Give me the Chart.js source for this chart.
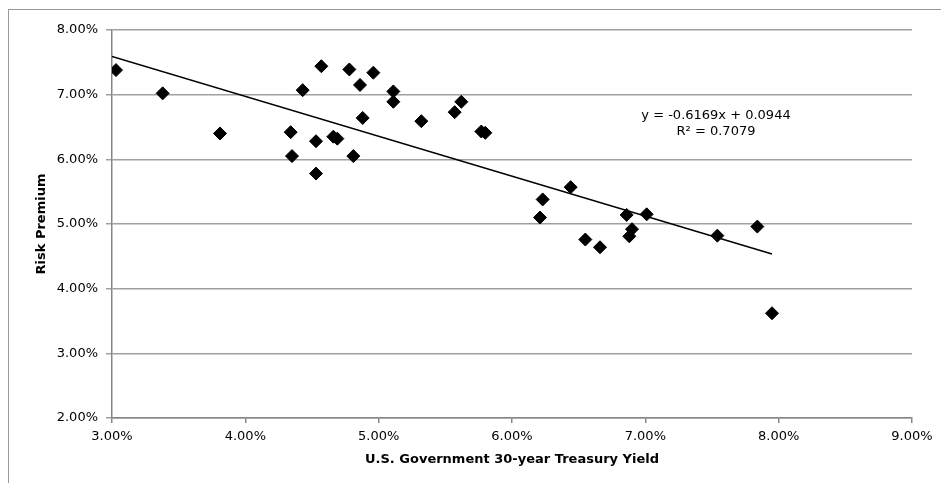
<!DOCTYPE html>
<html>
<head>
<meta charset="utf-8">
<script src="https://cdn.jsdelivr.net/npm/chart.js@4"></script>
<style>
  html, body { margin: 0; padding: 0; background: #fff; }
  canvas { display: block; }
</style>
</head>
<body>
<canvas id="c" width="941" height="483"></canvas>
<script>
// ---- Data (percent units) ----
const treasuryYield = [3.03, 3.38, 3.81, 4.34, 4.35, 4.43, 4.53, 4.53, 4.57, 4.66, 4.69, 4.78, 4.81, 4.86, 4.88, 4.96,
  5.11, 5.11, 5.32, 5.57, 5.62, 5.77, 5.80, 6.21, 6.23, 6.44, 6.55, 6.66, 6.86, 6.88, 6.90, 7.01, 7.54, 7.84, 7.95];
const riskPremium = [7.38, 7.02, 6.40, 6.42, 6.05, 7.07, 6.28, 5.78, 7.44, 6.35, 6.32, 7.39, 6.05, 7.15, 6.64, 7.34,
  7.05, 6.89, 6.59, 6.73, 6.89, 6.43, 6.41, 5.10, 5.38, 5.57, 4.76, 4.64, 5.14, 4.81, 4.92, 5.15, 4.82, 4.96, 3.62];
const trendSlope = -0.6169;
const trendIntercept = 0.0944;
const trendRSquared = 0.7079;
const xTicks = [3, 4, 5, 6, 7, 8, 9];
const yTicks = [2, 3, 4, 5, 6, 7, 8];
const xTitle = 'U.S. Government 30-year Treasury Yield';
const yTitle = 'Risk Premium';
const equationText = 'y = -0.6169x + 0.0944';
const rSquaredText = 'R\u00B2 = 0.7079';

const points = treasuryYield.map((x, i) => ({ x: x, y: riskPremium[i] }));
const xMinData = Math.min(...treasuryYield) - 0.03;
const xMaxData = Math.max(...treasuryYield);
const trend = x => (trendSlope * (x / 100) + trendIntercept) * 100;
const trendPoints = [{ x: xMinData, y: trend(xMinData) }, { x: xMaxData, y: trend(xMaxData) }];

const FONT = 'DejaVu Sans';

const framePlugin = {
  id: 'frame',
  beforeDraw(chart) {
    const ctx = chart.ctx;
    ctx.save();
    ctx.fillStyle = '#fff';
    ctx.fillRect(0, 0, chart.width, chart.height);
    ctx.strokeStyle = '#999999';
    ctx.lineWidth = 1;
    ctx.strokeRect(8.5, 9.5, 1200, 1200);
    ctx.restore();
  }
};

const equationPlugin = {
  id: 'equation',
  afterDatasetsDraw(chart) {
    const ctx = chart.ctx;
    const xs = chart.scales.x, ys = chart.scales.y;
    const px = xs.getPixelForValue(7.53);
    const py = ys.getPixelForValue(6.68);
    ctx.save();
    ctx.fillStyle = '#000';
    ctx.font = '13px "' + FONT + '"';
    ctx.textAlign = 'center';
    ctx.textBaseline = 'middle';
    ctx.fillText(equationText, px, py);
    ctx.fillText(rSquaredText, px, py + 16);
    ctx.restore();
  }
};

Chart.defaults.font.family = FONT;
Chart.defaults.font.size = 13;
Chart.defaults.color = '#000';

new Chart(document.getElementById('c'), {
  type: 'scatter',
  data: {
    datasets: [
      {
        label: 'Risk Premium',
        data: points,
        pointStyle: 'rectRot',
        pointRadius: 6.5,
        pointHoverRadius: 6.5,
        backgroundColor: '#000',
        borderColor: '#000',
        borderWidth: 1,
        order: 1
      },
      {
        type: 'line',
        label: 'Trend',
        data: trendPoints,
        borderColor: '#000',
        borderWidth: 1.5,
        pointRadius: 0,
        fill: false,
        order: 2
      }
    ]
  },
  options: {
    responsive: false,
    devicePixelRatio: 1,
    animation: false,
    events: [],
    layout: { padding: { top: 30, right: 29, left: 0, bottom: 0 } },
    plugins: { legend: { display: false }, tooltip: { enabled: false } },
    scales: {
      x: {
        type: 'linear',
        min: 3, max: 9,
        afterBuildTicks(scale) { scale.ticks = xTicks.map(v => ({ value: v })); },
        afterFit(scale) { scale.height = 65; },
        ticks: { callback: v => v.toFixed(2) + '%', padding: 6, maxRotation: 0, color: '#000', font: { size: 13 } },
        grid: { drawOnChartArea: false, drawTicks: true, tickLength: 5, color: '#868686', lineWidth: 1.5 },
        border: { color: '#868686', width: 1.5 },
        title: { display: true, text: xTitle, font: { size: 13, weight: 'bold' }, color: '#000', padding: { top: 0, bottom: 16 } }
      },
      y: {
        type: 'linear',
        min: 2, max: 8,
        afterBuildTicks(scale) { scale.ticks = yTicks.map(v => ({ value: v })); },
        afterFit(scale) { scale.width = 112; },
        ticks: { callback: v => v.toFixed(2) + '%', padding: 8, color: '#000', font: { size: 13 } },
        grid: { drawTicks: true, tickLength: 6, color: '#a0a0a0', lineWidth: 1.5 },
        border: { color: '#868686', width: 1.5 },
        title: { display: true, text: yTitle, font: { size: 13, weight: 'bold' }, color: '#000', padding: { top: 34, bottom: 0 } }
      }
    }
  },
  plugins: [framePlugin, equationPlugin]
});
</script>
</body>
</html>
